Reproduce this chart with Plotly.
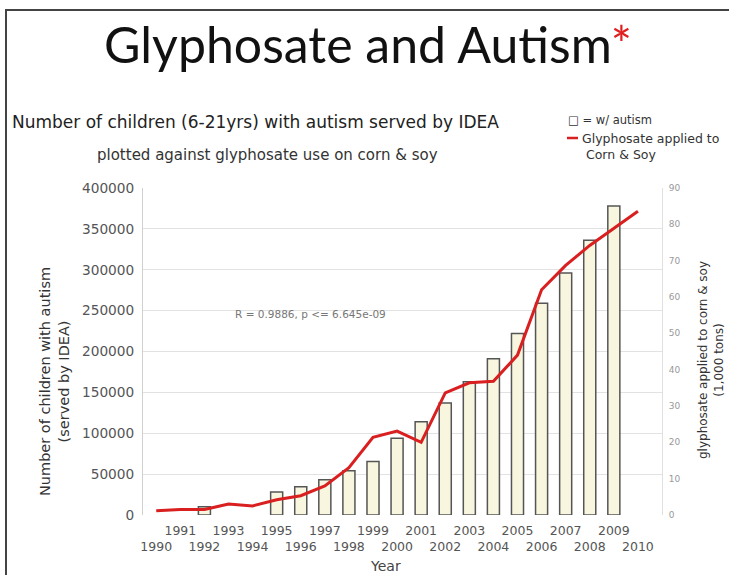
import plotly.graph_objects as go

# ---- data ----
years = list(range(1990, 2011))
bar_years = [1992, 1995, 1996, 1997, 1998, 1999, 2000, 2001, 2002, 2003,
             2004, 2005, 2006, 2007, 2008, 2009]
autism_children = [10000, 28000, 34700, 43000, 54000, 65400, 94000, 114000,
                   137000, 163000, 191000, 222000, 259000, 296000, 336000, 378000]
glyphosate = [1.2, 1.5, 1.5, 3.0, 2.5, 4.2, 5.3, 8.0, 13.0, 21.4, 23.1, 20.0,
              33.6, 36.4, 36.8, 44.0, 62.0, 68.7, 74.2, 79.0, 83.6]
left_ticks = [0, 50000, 100000, 150000, 200000, 250000, 300000, 350000, 400000]
right_ticks = [0, 10, 20, 30, 40, 50, 60, 70, 80, 90]
x_ticktext = [str(y) if y % 2 else "<br>" + str(y) for y in years]

# ---- layout geometry (pixels) ----
W, H = 729, 575
L, R, T, B = 143, 662, 188, 515
def px(x):
    return (x - L) / (R - L)
def py(y):
    return (B - y) / (B - T)

fig = go.Figure()
fig.add_trace(go.Bar(
    x=bar_years, y=autism_children, width=0.5,
    marker=dict(color="#f8f6de", line=dict(color="#555555", width=1.5)),
    showlegend=False, yaxis="y"))
fig.add_trace(go.Scatter(
    x=years, y=glyphosate, mode="lines",
    line=dict(color="#d91f1f", width=3),
    showlegend=False, yaxis="y2"))

fig.update_layout(
    width=W, height=H,
    margin=dict(l=L, r=W - R, t=T, b=H - B, pad=0),
    paper_bgcolor="white", plot_bgcolor="white",
    font=dict(family="DejaVu Sans", color="#444"),
    xaxis=dict(range=[1989.45, 2011], tickvals=years, ticktext=x_ticktext,
               tickangle=0, showgrid=False, zeroline=False, showline=False,
               ticks="outside", ticklen=4, tickcolor="rgba(0,0,0,0)",
               tickfont=dict(size=12.5, color="#555")),
    yaxis=dict(range=[0, 400000], tickvals=left_ticks,
               ticktext=[str(v) for v in left_ticks],
               showgrid=True, gridcolor="#e2e2e2", gridwidth=1,
               zeroline=False, showline=True, linecolor="#d0d0d0",
               ticks="outside", ticklen=5, tickcolor="rgba(0,0,0,0)",
               tickfont=dict(size=13.7, color="#555")),
    yaxis2=dict(range=[0, 90], overlaying="y", side="right",
                tickvals=right_ticks, showgrid=False, zeroline=False,
                showline=True, linecolor="#e0e0e0",
                ticks="outside", ticklen=4, tickcolor="rgba(0,0,0,0)",
                tickfont=dict(size=9, color="#999")),
)

ann = []
ann.append(dict(text="Glyphosate and Autism<span style='color:#e02020'>*</span>",
                x=px(368), y=py(44), xref="paper", yref="paper",
                xanchor="center", yanchor="middle", showarrow=False,
                font=dict(family="Lato", size=50, color="#111")))
ann.append(dict(text="Number of children (6-21yrs) with autism served by IDEA",
                x=px(10), y=py(122), xref="paper", yref="paper",
                xanchor="left", yanchor="middle", showarrow=False,
                font=dict(family="DejaVu Sans", size=17, color="#222")))
ann.append(dict(text="plotted against glyphosate use on corn & soy",
                x=px(95), y=py(155), xref="paper", yref="paper",
                xanchor="left", yanchor="middle", showarrow=False,
                font=dict(family="DejaVu Sans", size=15, color="#333")))
ann.append(dict(text="□ = w/ autism",
                x=px(566), y=py(120), xref="paper", yref="paper",
                xanchor="left", yanchor="middle", showarrow=False,
                font=dict(family="DejaVu Sans", size=11.5, color="#333")))
ann.append(dict(text="Glyphosate applied to<br> Corn & Soy",
                x=px(580), y=py(146), xref="paper", yref="paper",
                xanchor="left", yanchor="middle", align="left", showarrow=False,
                font=dict(family="DejaVu Sans", size=12.5, color="#333")))
ann.append(dict(text="Number of children with autism<br>(served by IDEA)",
                x=px(54), y=py(382), xref="paper", yref="paper",
                xanchor="center", yanchor="middle", textangle=-90, showarrow=False,
                font=dict(family="DejaVu Sans", size=14.5, color="#333")))
ann.append(dict(text="glyphosate applied to corn & soy<br>(1,000 tons)",
                x=px(711), y=py(360), xref="paper", yref="paper",
                xanchor="center", yanchor="middle", textangle=-90, showarrow=False,
                font=dict(family="DejaVu Sans", size=12, color="#333")))
ann.append(dict(text="R = 0.9886, p <= 6.645e-09",
                x=px(310), y=py(314), xref="paper", yref="paper",
                xanchor="center", yanchor="middle", showarrow=False,
                font=dict(family="DejaVu Sans", size=10.5, color="#777")))
ann.append(dict(text="Year",
                x=px(385), y=py(566), xref="paper", yref="paper",
                xanchor="center", yanchor="middle", showarrow=False,
                font=dict(family="DejaVu Sans", size=14, color="#444")))
fig.update_layout(annotations=ann)

fig.update_layout(shapes=[
    dict(type="line", xref="paper", yref="paper",
         x0=px(567), x1=px(578), y0=py(138), y1=py(138),
         line=dict(color="#d91f1f", width=2.5)),
    dict(type="rect", xref="paper", yref="paper",
         x0=px(6), x1=px(760), y0=py(10), y1=py(600),
         line=dict(color="#444", width=2), fillcolor="rgba(0,0,0,0)", layer="below"),
])

fig.write_html("out.html", config={"displayModeBar": False},
               post_script="document.body.style.margin='0';document.body.style.overflow='hidden';")
